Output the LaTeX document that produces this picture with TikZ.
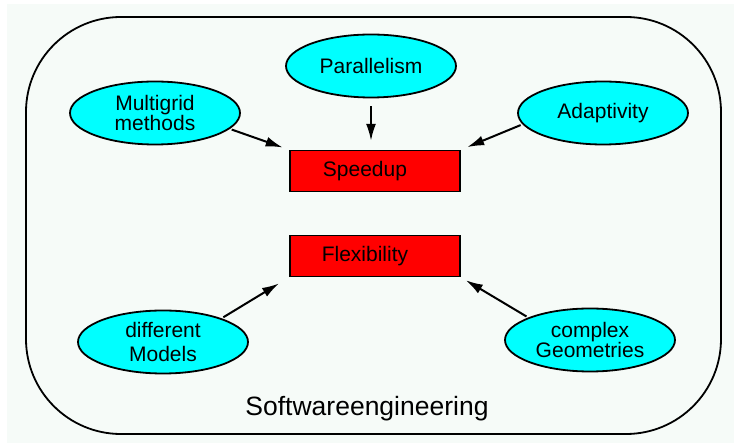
\documentclass[tikz,border=0pt]{standalone}
\usepackage{fontspec}
\setmainfont{Liberation Sans}
\usetikzlibrary{shapes.geometric,arrows.meta}
\definecolor{bgpale}{RGB}{246,251,248}
\definecolor{topicfill}{RGB}{0,255,255}
\definecolor{aimfill}{RGB}{255,0,0}
\tikzset{
  topic/.style={ellipse,draw,line width=1.8pt,fill=topicfill,minimum width=170pt,minimum height=63pt,inner sep=0pt,align=center,font=\fontsize{21}{19}\selectfont},
  aim/.style={rectangle,draw,line width=1.4pt,fill=aimfill,minimum width=170pt,minimum height=41pt,inner sep=0pt,font=\fontsize{21}{19}\selectfont},
  pointer/.style={line width=2pt,-{Latex[length=17pt,width=10pt]}}
}
\begin{document}
\begin{tikzpicture}[x=1pt,y=-1pt]
\useasboundingbox (0,0) rectangle (734,443);
\fill[bgpale] (7,4) rectangle (734,443); % pale page
\draw[line width=1.8pt,rounded corners=95pt] (26,17) rectangle (721,434);
% the two goals
\node[aim] (speed) at (375,171) {Speedup\kern20pt};
\node[aim] (flex) at (375,256) {Flexibility\kern20pt};
% what they come from
\node[topic] (par) at (371,66) {Parallelism};
\node[topic] (multi) at (155,113) {Multigrid\\methods};
\node[topic] (adapt) at (603,113) {Adaptivity};
\node[topic,font=\fontsize{21}{24}\selectfont] (models) at (163,342) {different\\Models};
\node[topic] (geom) at (590,340) {complex\\Geometries};
\node[font=\fontsize{26.5}{28}\selectfont,anchor=base] (soft) at (367,416) {Softwareengineering};
% arrows
\draw[pointer,shorten <=8pt,shorten >=9pt] (par.south) -- (par.south |- speed.north);
\draw[pointer,shorten <=2pt,shorten >=7pt] (multi.-12) -- (speed.north west);
\draw[pointer,shorten <=2pt,shorten >=7pt] (adapt.188) -- (speed.north east);
\draw[pointer,shorten <=2pt,shorten >=12pt] (models.22) -- (flex.south west);
\draw[pointer,shorten <=2pt,shorten >=6pt] (geom.160) -- (flex.south east);
\end{tikzpicture}
\end{document}
